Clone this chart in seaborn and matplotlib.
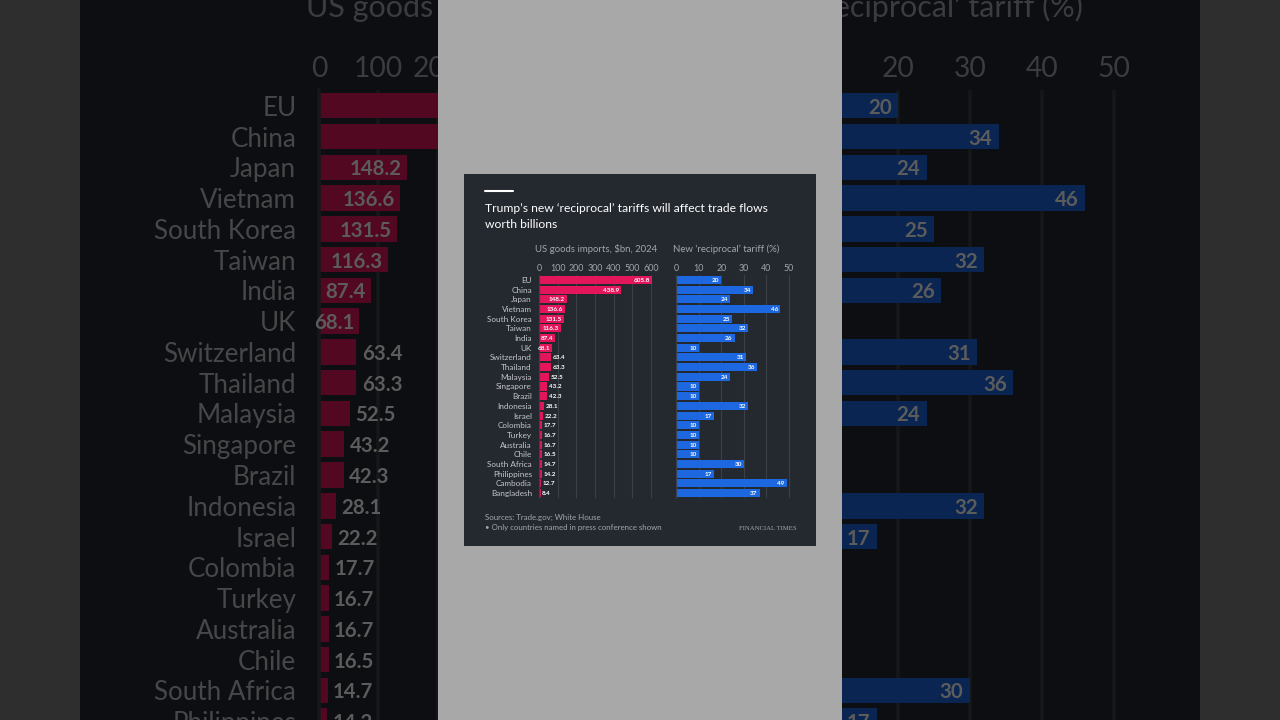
import numpy as np
import pandas as pd
import matplotlib
matplotlib.use("Agg")
import matplotlib.pyplot as plt
import seaborn as sns
from matplotlib.colors import to_rgb
from matplotlib.patches import Rectangle
from matplotlib.lines import Line2D

# Data
countries = ["EU", "China", "Japan", "Vietnam", "South Korea", "Taiwan", "India", "UK",
             "Switzerland", "Thailand", "Malaysia", "Singapore", "Brazil", "Indonesia",
             "Israel", "Colombia", "Turkey", "Australia", "Chile", "South Africa",
             "Philippines", "Cambodia", "Bangladesh"]
imports_bn = [605.8, 438.9, 148.2, 136.6, 131.5, 116.3, 87.4, 68.1, 63.4, 63.3, 52.5, 43.2,
              42.3, 28.1, 22.2, 17.7, 16.7, 16.7, 16.5, 14.7, 14.2, 12.7, 8.4]
tariff_pct = [20, 34, 24, 46, 25, 32, 26, 10, 31, 36, 24, 10, 10, 32, 17, 10, 10, 10, 10,
              30, 17, 49, 37]
import_ticks = [0, 100, 200, 300, 400, 500, 600]
tariff_ticks = [0, 10, 20, 30, 40, 50]

title_lines = ["Trump\u2019s new \u2018reciprocal\u2019 tariffs will affect trade flows",
               "worth billions"]
sub_left = "US goods imports, $bn, 2024"
sub_right = "New \u2018reciprocal\u2019 tariff (%)"
source_lines = ["Sources: Trade.gov; White House",
                "\u2022 Only countries named in press conference shown"]

df = pd.DataFrame({"country": countries, "imports": imports_bn, "tariff": tariff_pct})

# Colours
PANEL = "#24282f"
RED = "#e3165b"
BLUE = "#1d68e0"
GRID = "#3b3f46"
MUTED = "#a3a6ab"
LABEL = "#c3c5c9"
WHITE = "#ffffff"

sns.set_style("dark")
plt.rcParams["font.family"] = ["Lato", "DejaVu Sans"]

W, H = 1280, 720
CX, CY = 640, 360

fig = plt.figure(figsize=(12.8, 7.2), dpi=100, facecolor="#2e2e2e")


def shade(col, k):
    r, g, b = to_rgb(col)
    return (r * k, g * k, b * k)


def draw_panel(s, k, z):
    # s = zoom about the image centre, k = brightness factor, z = base zorder
    X = lambda px: (CX + s * (px - CX)) / W
    Y = lambda py: 1 - (CY + s * (py - CY)) / H
    c = lambda col: shade(col, k)
    pt = lambda v: v * s

    fig.add_artist(Rectangle((X(464), Y(546)), X(816) - X(464), Y(174) - Y(546),
                             transform=fig.transFigure, facecolor=c(PANEL),
                             edgecolor="none", zorder=z))
    fig.add_artist(Line2D([X(485), X(513)], [Y(191), Y(191)], transform=fig.transFigure,
                          color=c(WHITE), lw=pt(1.5), zorder=z + 0.1))

    fig.text(X(485), Y(212.5), title_lines[0], fontsize=pt(8.7), color=c(WHITE),
             va="baseline", zorder=z + 0.1)
    fig.text(X(485), Y(228.5), title_lines[1], fontsize=pt(8.7), color=c(WHITE),
             va="baseline", zorder=z + 0.1)
    fig.text(X(535), Y(252), sub_left, fontsize=pt(6.9), color=c(MUTED),
             va="baseline", zorder=z + 0.1)
    fig.text(X(673), Y(252), sub_right, fontsize=pt(6.9), color=c(MUTED),
             va="baseline", zorder=z + 0.1)
    fig.text(X(485), Y(520), source_lines[0], fontsize=pt(5.7), color=c(MUTED),
             va="baseline", zorder=z + 0.1)
    fig.text(X(485), Y(530), source_lines[1], fontsize=pt(5.7), color=c(MUTED),
             va="baseline", zorder=z + 0.1)
    fig.text(X(797), Y(529.5), "FINANCIAL TIMES", fontsize=pt(4.9), color=c(MUTED),
             ha="right", va="baseline", family="Liberation Serif", zorder=z + 0.1)

    top, bottom = 275.2, 497.8

    axL = fig.add_axes([X(539), Y(bottom), X(658.5) - X(539), Y(top) - Y(bottom)])
    axR = fig.add_axes([X(676), Y(bottom), X(793.5) - X(676), Y(top) - Y(bottom)])
    for ax in (axL, axR):
        ax.set_zorder(z + 0.2)
        ax.set_facecolor("none")

    sns.barplot(data=df, x="imports", y="country", ax=axL, color=c(RED),
                saturation=1, width=0.83, orient="h", edgecolor="none", linewidth=0)
    sns.barplot(data=df, x="tariff", y="country", ax=axR, color=c(BLUE),
                saturation=1, width=0.83, orient="h", edgecolor="none", linewidth=0)

    axL.set_xlim(0, 640)
    axR.set_xlim(0, 52)
    axL.set_xticks(import_ticks)
    axR.set_xticks(tariff_ticks)
    for ax in (axL, axR):
        ax.set_ylim(len(countries) - 0.5, -0.5)
        ax.set_xlabel("")
        ax.set_ylabel("")
        ax.xaxis.tick_top()
        ax.tick_params(axis="x", length=0, pad=pt(1.8), labelsize=pt(6.4),
                       labelcolor=c(MUTED))
        ax.grid(axis="x", color=c(GRID), lw=pt(0.8))
        ax.grid(axis="y", visible=False)
        ax.set_axisbelow(True)
        for side in ("top", "right", "bottom"):
            ax.spines[side].set_visible(False)
        ax.spines["left"].set_color(c(GRID))
        ax.spines["left"].set_linewidth(pt(0.8))

    axL.tick_params(axis="y", length=pt(3.6), width=pt(0.7), color=c("#8a8d92"),
                    pad=pt(1.5), labelsize=pt(5.9), labelcolor=c(LABEL))
    axR.tick_params(axis="y", left=False, labelleft=False)

    for i, v in enumerate(imports_bn):
        if v > 65:
            axL.text(v - 9, i, f"{v:.1f}", ha="right", va="center_baseline",
                     fontsize=pt(4.6), fontweight="bold", color=c(WHITE))
        else:
            axL.text(v + 9, i, f"{v:.1f}", ha="left", va="center_baseline",
                     fontsize=pt(4.6), fontweight="bold", color=c(WHITE))
    for i, v in enumerate(tariff_pct):
        axR.text(v - 0.9, i, f"{v}", ha="right", va="center_baseline",
                 fontsize=pt(4.6), fontweight="bold", color=c(WHITE))


# darkened zoomed copy behind
draw_panel(3.18, 0.36, 1)

# grey middle strip
fig.add_artist(Rectangle((438 / W, 0), (842 - 438) / W, 1, transform=fig.transFigure,
                         facecolor="#a8a8a8", edgecolor="none", zorder=3))

# the chart itself
draw_panel(1.0, 1.0, 5)

fig.savefig("out.png", dpi=100, facecolor=fig.get_facecolor())
